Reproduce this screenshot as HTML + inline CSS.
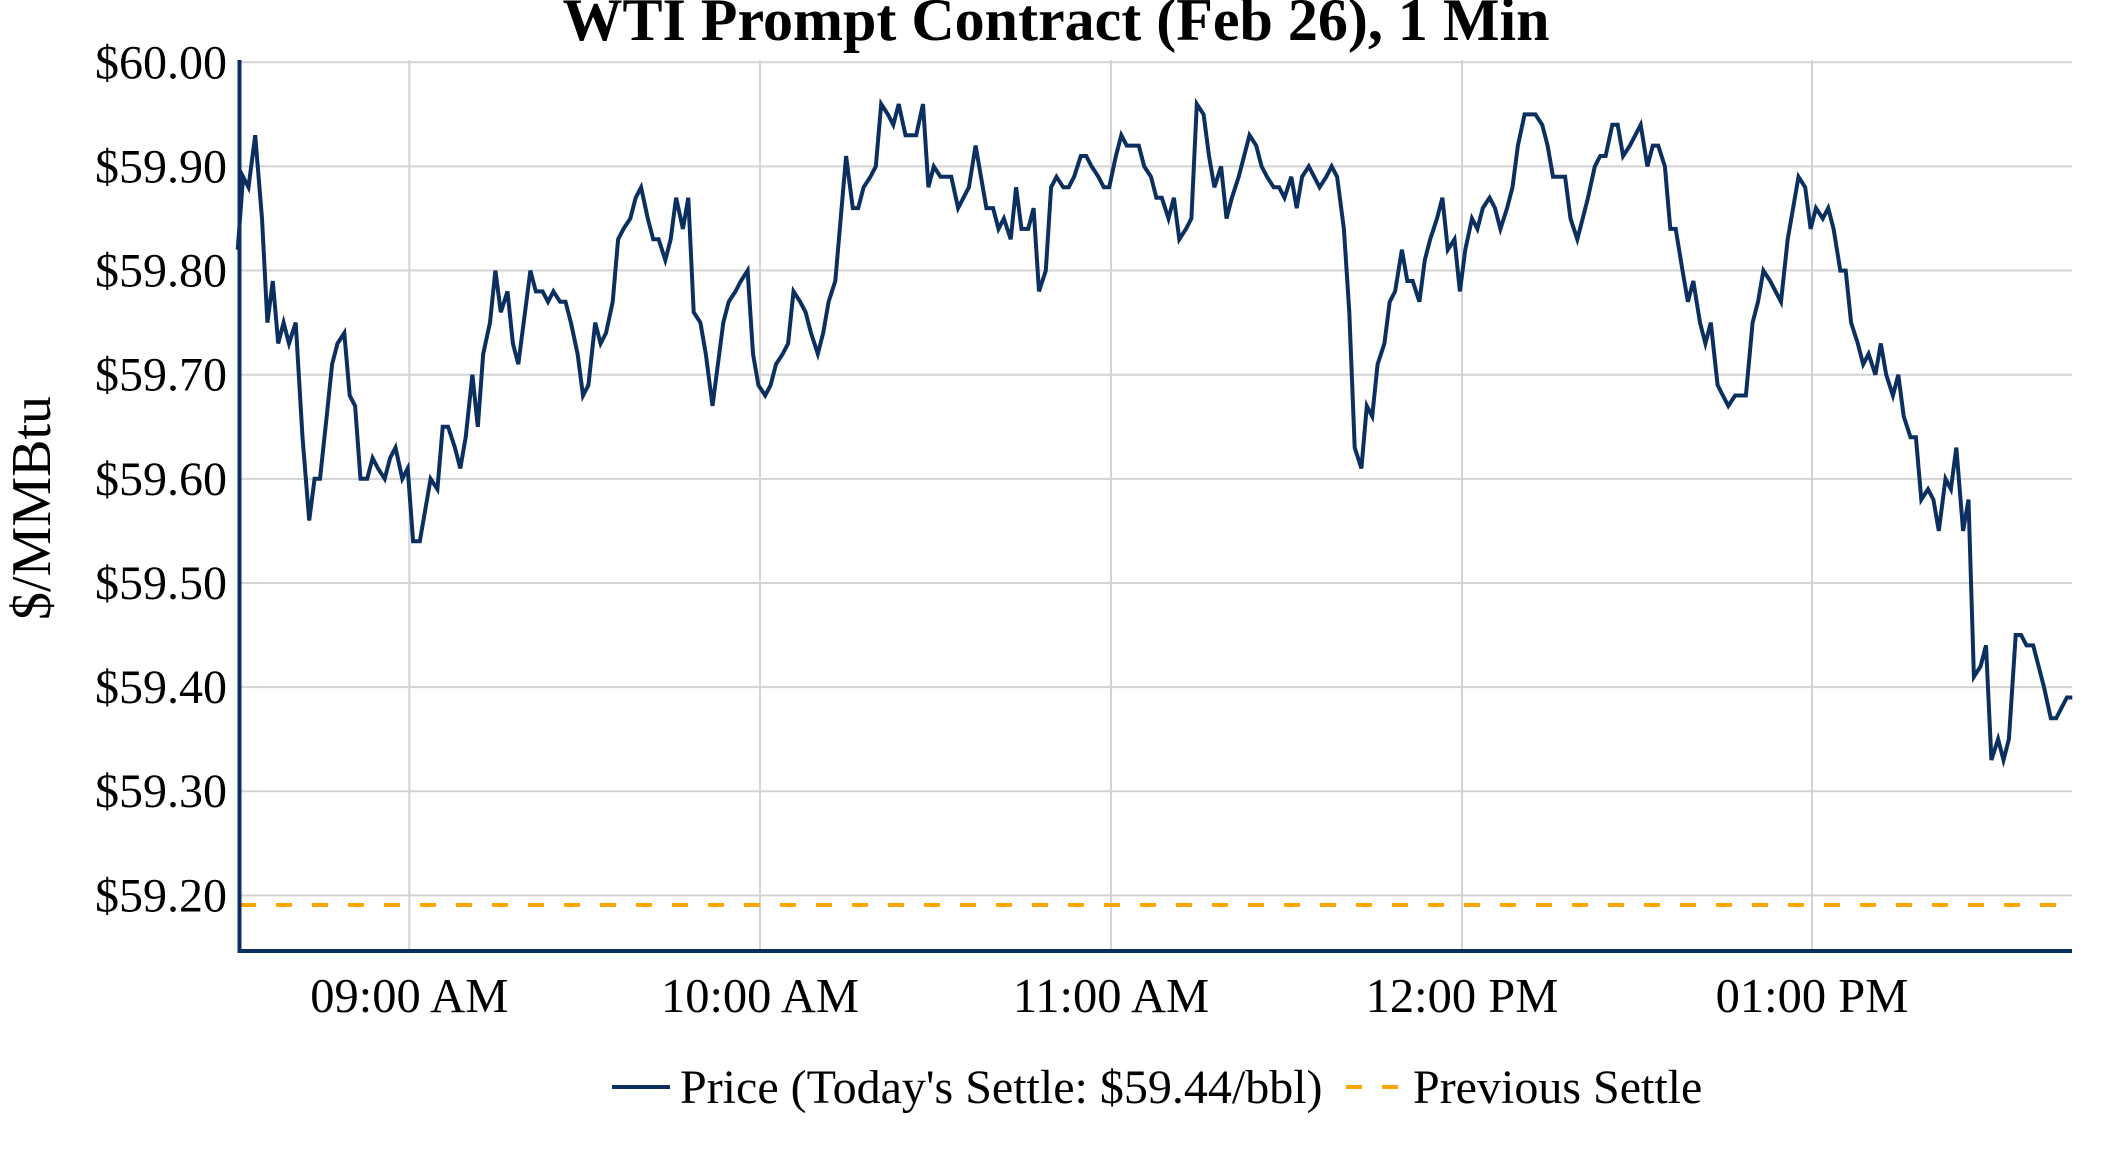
<!DOCTYPE html>
<html><head><meta charset="utf-8"><style>
html,body{margin:0;padding:0;background:#fff;}
svg{display:block;font-family:"Liberation Serif",serif;}
</style></head><body>
<svg id="c" width="2112" height="1152" viewBox="0 0 2112 1152" xmlns="http://www.w3.org/2000/svg">
<text x="1056" y="40" font-size="60" font-weight="bold" text-anchor="middle" fill="#000">WTI Prompt Contract (Feb 26), 1 Min</text>
<g id="grid" stroke="#d3d3d3" stroke-width="2"></g>
<g id="ylab" font-size="48" text-anchor="end" fill="#000"></g>
<g id="xlab" font-size="48.5" text-anchor="middle" fill="#000"></g>
<line x1="240" y1="905" x2="2066" y2="905" stroke="#FFA500" stroke-width="4" stroke-dasharray="16,20"/>
<path id="series" fill="none" stroke="#0b2f5e" stroke-width="4" stroke-linejoin="miter"/>
<line x1="239.5" y1="60" x2="239.5" y2="953" stroke="#0b2f5e" stroke-width="4"/>
<line x1="237.5" y1="951" x2="2072" y2="951" stroke="#0b2f5e" stroke-width="4"/>
<text transform="translate(50,508) rotate(-90)" font-size="56" text-anchor="middle" fill="#000">$/MMBtu</text>
<line x1="612" y1="1087" x2="670" y2="1087" stroke="#0b2f5e" stroke-width="4"/>
<text x="680" y="1103" font-size="48" fill="#000">Price (Today's Settle: $59.44/bbl)</text>
<line x1="1346" y1="1087" x2="1402" y2="1087" stroke="#FFA500" stroke-width="4" stroke-dasharray="16,20"/>
<text x="1413" y="1103" font-size="48" fill="#000">Previous Settle</text>
</svg>
<script>
(function(){
var NS="http://www.w3.org/2000/svg";
function Y(v){return 62.3+(60-v)*1041.3;}
function X(xd){return 237.7+(xd-177)*1.349;}
var g=document.getElementById('grid'),yl=document.getElementById('ylab'),xl=document.getElementById('xlab');
for(var i=0;i<=8;i++){var v=60-i*0.1,y=Y(v);
var l=document.createElementNS(NS,'line');l.setAttribute('x1',240);l.setAttribute('x2',2072);l.setAttribute('y1',y);l.setAttribute('y2',y);g.appendChild(l);
var t=document.createElementNS(NS,'text');t.setAttribute('x',227);t.setAttribute('y',y+16);t.textContent='$'+v.toFixed(2);yl.appendChild(t);}
var xs=[409.3,760,1111,1462,1812],lb=['09:00 AM','10:00 AM','11:00 AM','12:00 PM','01:00 PM'];
for(var j=0;j<5;j++){var l2=document.createElementNS(NS,'line');l2.setAttribute('x1',xs[j]);l2.setAttribute('x2',xs[j]);l2.setAttribute('y1',60);l2.setAttribute('y2',950);g.appendChild(l2);
var t2=document.createElementNS(NS,'text');t2.setAttribute('x',xs[j]);t2.setAttribute('y',1012);t2.textContent=lb[j];xl.appendChild(t2);}
var d=[177,59.82,181,59.89,185,59.88,190,59.93,195,59.85,199,59.75,203,59.79,207,59.73,211,59.75,215,59.73,220,59.75,225,59.64,230,59.56,234,59.60,238,59.60,243,59.66,247,59.71,251,59.73,256,59.74,260,59.68,264,59.67,268,59.60,273,59.60,277,59.62,281,59.61,286,59.60,290,59.62,294,59.63,299,59.60,303,59.61,307,59.54,312,59.54,316,59.57,320,59.60,325,59.59,329,59.65,333,59.65,338,59.63,342,59.61,346,59.64,351,59.70,355,59.65,359,59.72,364,59.75,368,59.80,372,59.76,377,59.78,381,59.73,385,59.71,390,59.76,394,59.80,398,59.78,403,59.78,407,59.77,411,59.78,416,59.77,420,59.77,424,59.75,429,59.72,433,59.68,437,59.69,442,59.75,446,59.73,450,59.74,455,59.77,459,59.83,463,59.84,468,59.85,472,59.87,476,59.88,481,59.85,485,59.83,489,59.83,494,59.81,498,59.83,502,59.87,507,59.84,511,59.87,515,59.76,520,59.75,524,59.72,529,59.67,533,59.71,537,59.75,541,59.77,546,59.78,550,59.79,555,59.80,559,59.72,563,59.69,568,59.68,572,59.69,576,59.71,581,59.72,585,59.73,589,59.78,594,59.77,598,59.76,602,59.74,607,59.72,611,59.74,615,59.77,620,59.79,624,59.85,628,59.91,633,59.86,637,59.86,641,59.88,646,59.89,650,59.90,654,59.96,659,59.95,663,59.94,667,59.96,672,59.93,676,59.93,680,59.93,685,59.96,689,59.88,693,59.90,698,59.89,702,59.89,706,59.89,711,59.86,715,59.87,719,59.88,724,59.92,728,59.89,732,59.86,737,59.86,741,59.84,745,59.85,750,59.83,754,59.88,758,59.84,763,59.84,767,59.86,771,59.78,776,59.80,780,59.88,784,59.89,789,59.88,793,59.88,797,59.89,802,59.91,806,59.91,810,59.90,815,59.89,819,59.88,823,59.88,828,59.91,832,59.93,836,59.92,841,59.92,845,59.92,849,59.90,854,59.89,858,59.87,862,59.87,867,59.85,871,59.87,875,59.83,880,59.84,884,59.85,888,59.96,893,59.95,897,59.91,901,59.88,906,59.90,910,59.85,914,59.87,919,59.89,923,59.91,927,59.93,932,59.92,936,59.90,940,59.89,945,59.88,949,59.88,953,59.87,958,59.89,962,59.86,966,59.89,971,59.90,975,59.89,979,59.88,984,59.89,988,59.90,992,59.89,997,59.84,1001,59.76,1005,59.63,1010,59.61,1014,59.67,1018,59.66,1022,59.71,1027,59.73,1031,59.77,1035,59.78,1040,59.82,1044,59.79,1048,59.79,1053,59.77,1057,59.81,1061,59.83,1066,59.85,1070,59.87,1074,59.82,1079,59.83,1083,59.78,1087,59.82,1092,59.85,1096,59.84,1100,59.86,1105,59.87,1109,59.86,1113,59.84,1118,59.86,1122,59.88,1126,59.92,1131,59.95,1135,59.95,1139,59.95,1144,59.94,1148,59.92,1152,59.89,1157,59.89,1161,59.89,1165,59.85,1170,59.83,1174,59.85,1178,59.87,1183,59.90,1187,59.91,1191,59.91,1196,59.94,1200,59.94,1204,59.91,1209,59.92,1213,59.93,1217,59.94,1222,59.90,1226,59.92,1230,59.92,1235,59.90,1239,59.84,1243,59.84,1248,59.80,1252,59.77,1256,59.79,1261,59.75,1265,59.73,1269,59.75,1274,59.69,1278,59.68,1282,59.67,1287,59.68,1291,59.68,1295,59.68,1300,59.75,1304,59.77,1308,59.80,1313,59.79,1317,59.78,1321,59.77,1326,59.83,1330,59.86,1334,59.89,1339,59.88,1343,59.84,1347,59.86,1352,59.85,1356,59.86,1360,59.84,1365,59.80,1369,59.80,1373,59.75,1378,59.73,1382,59.71,1386,59.72,1391,59.70,1395,59.73,1399,59.70,1404,59.68,1408,59.70,1412,59.66,1417,59.64,1421,59.64,1425,59.58,1430,59.59,1434,59.58,1438,59.55,1443,59.60,1447,59.59,1451,59.63,1456,59.55,1460,59.58,1464,59.41,1469,59.42,1473,59.44,1477,59.33,1482,59.35,1486,59.33,1490,59.35,1495,59.45,1499,59.45,1503,59.44,1508,59.44,1512,59.42,1516,59.40,1521,59.37,1525,59.37,1529,59.38,1533,59.39,1537,59.39];
var p='';for(var k=0;k<d.length;k+=2){p+=(k?'L':'M')+X(d[k]).toFixed(1)+' '+Y(d[k+1]).toFixed(1);}
document.getElementById('series').setAttribute('d',p);
})();
</script>
</body></html>
